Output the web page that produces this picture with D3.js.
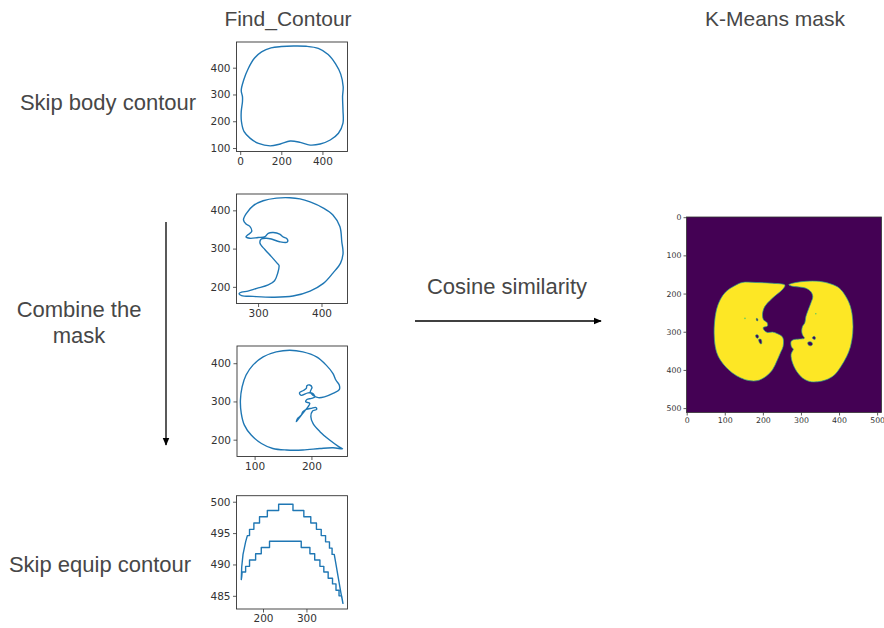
<!DOCTYPE html>
<html>
<head>
<meta charset="utf-8">
<script src="https://cdn.jsdelivr.net/npm/d3@7"></script>
<style>
  body { margin: 0; background: #ffffff; }
  svg { display: block; }
</style>
</head>
<body>
<svg id="chart" width="884" height="628"></svg>
<script>
// ---- contour data (pixel coordinates of the CT slice) ----
const bodyContour = [[259,481],[200,479],[150,474],[104,459],[70,436],[40,398],[17,354],[5,315],[11,292],[11,273],[5,236],[6,199],[19,161],[49,136],[89,117],[146,108],[195,115],[243,126],[292,121],[340,111],[389,115],[438,130],[478,155],[500,193],[500,242],[498,292],[501,329],[489,376],[464,414],[428,449],[380,472],[320,480]];

const leftLungContour = [[350,433],[329,432],[308,425],[293,413],[282,393],[277,375],[281,364],[287,358],[290,345],[284,336],[281,331],[287,327],[300,329],[311,331],[316,340],[324,342],[334,338],[339,331],[346,325],[346,317],[334,318],[321,325],[313,327],[305,325],[303,314],[311,297],[321,279],[330,262],[333,256],[331,236],[326,216],[316,205],[298,196],[284,189],[274,186],[270,182],[274,177],[292,175],[324,173],[355,176],[382,189],[403,209],[418,236],[430,262],[434,288],[432,318],[429,358],[418,388],[403,406],[382,422],[366,430]];

const rightLungContour = [[162,434],[138,429.5],[115,416.5],[97,395],[85,369],[78,338],[75,303],[76.5,269],[82,238],[94,212],[112,190],[132,177],[156,173],[185,173],[215,177],[238,179],[255,176],[248,182],[232,199],[215,221],[203,242],[199,260],[202,275],[209,279],[208,284],[200,282],[191,279],[185,273],[182,264],[176,256],[173.5,247],[179,258],[188,275],[194,286],[197,295],[190,299],[192,305],[200,308],[206,312],[202,321],[194,322.5],[182,316],[179,322.5],[185,328],[191,334],[192,341],[197,343],[201,337],[198,325],[203,316],[212,310],[223,312],[238,321],[249,331],[249,343],[243,356],[238,373],[226,395],[209,416.5],[185,429.5]];

const equipContour = [[150,487.6],[151,489.6],[154,491.6],[157,492.6],[160,493.6],[164,494.6],[169,494.6],[169,495.6],[179,495.6],[179,496.6],[192,496.6],[192,497.6],[210,497.6],[210,498.6],[236,498.6],[236,499.6],[269,499.6],[269,498.6],[294,498.6],[294,497.6],[310,497.6],[310,496.6],[323,496.6],[323,495.6],[334,495.6],[334,494.6],[344,494.6],[344,493.6],[353,493.6],[353,492.6],[359,492.6],[359,491.6],[364,491.6],[369,489.6],[374,487.6],[379,485.6],[384,483.8],
  [381,485.0],[375,485.0],[375,485.9],[368,485.9],[368,486.9],[360,486.9],[360,487.8],[350,487.8],[350,488.8],[340,488.8],[340,489.7],[331,489.7],[331,490.7],[319,490.7],[319,491.7],[308,491.7],[308,492.7],[288,492.7],[288,493.7],[215,493.7],[215,492.7],[196,492.7],[196,491.7],[183,491.7],[183,490.7],[169,490.7],[169,489.7],[160,489.7],[160,488.8],[152,488.8],[151,488.0]];

// ---- K-Means mask regions (image row/column coordinates, 512 x 512) ----
const maskLeftLung = [[258,178],[225,173],[182,171],[146,171],[125,180],[103,195],[88,216],[78,243],[73,277],[72,304],[75,339],[83,365],[98,387],[120,408],[142,421],[164,428],[186,428],[208,417],[225,400],[238,374],[244,360],[248,351],[253,339],[254,321],[250,312],[238,305],[225,301],[212,302],[204,297],[201,289],[212,285],[211,276],[202,269],[199,256],[203,238],[212,225],[225,212],[238,201],[251,190]];
const maskRightLung = [[268,177],[287,171],[313,168],[348,168],[379,175],[401,186],[418,208],[430,234],[436,269],[436,304],[430,339],[420,365],[405,391],[388,413],[366,426],[344,431],[322,430],[304,421],[289,404],[278,382],[274,360],[277,352],[280,346],[275,339],[274,326],[280,321],[296,319],[309,317],[304,308],[302,299],[304,286],[310,277],[313,260],[319,243],[326,225],[331,208],[326,195],[313,186],[296,183],[278,181]];
const maskHoles = [
  [[183,265],[186,266],[187,270],[185,272],[183,269]],
  [[181,309],[186,308],[189,312],[187,317],[183,316]],
  [[189,320],[194,319],[197,324],[196,332],[192,330],[190,326]],
  [[318,328],[323,326],[329,328],[330,334],[325,337],[319,334]],
  [[330,315],[335,312],[338,315],[337,320],[332,319]]
];
const maskSpecks = [[153,265],[339,253]];

// ---- axis limits and tick labels ----
const bodyXLim = [-18, 522],  bodyYLim = [87, 496];
const leftXLim = [266, 441],  leftYLim = [156.5, 442.7];
const rightXLim = [69, 263.5], rightYLim = [156, 445];
const equipXLim = [139, 394.5], equipYLim = [482.9, 500.96];
const bodyXTicks = [0, 200, 400],   bodyYTicks = [100, 200, 300, 400];
const leftXTicks = [300, 400],      leftYTicks = [200, 300, 400];
const rightXTicks = [100, 200],     rightYTicks = [200, 300, 400];
const equipXTicks = [200, 300],     equipYTicks = [485, 490, 495, 500];
const maskTicks = [0, 100, 200, 300, 400, 500];
const maskExtent = [-0.5, 511.5];

// ---- texts ----
const titles = [
  { text: "Find_Contour", x: 288, y: 26 },
  { text: "K-Means mask", x: 775, y: 26 }
];
const stepLabels = [
  { lines: ["Skip body contour"], x: 108, y: 110 },
  { lines: ["Combine the", "mask"], x: 79, y: 317 },
  { lines: ["Skip equip contour"], x: 100, y: 572 },
  { lines: ["Cosine similarity"], x: 507, y: 294 }
];

const svg = d3.select("#chart");
const lineBlue = "#1f77b4";
const textGrey = "#474747";

function styleAxis(sel, size) {
  sel.select(".domain").remove();
  sel.selectAll(".tick line").attr("stroke", "#333").attr("stroke-width", 0.8);
  sel.selectAll(".tick text")
    .attr("fill", "#333")
    .style("font-family", "'DejaVu Sans', sans-serif")
    .style("font-size", size + "px");
}

function contourPanel(id, frame, xLim, yLim, xTicks, yTicks, pts, curve) {
  const [x0, x1, y0, y1] = frame;
  const x = d3.scaleLinear().domain(xLim).range([x0, x1]);
  const y = d3.scaleLinear().domain(yLim).range([y1, y0]);
  const g = svg.append("g").attr("class", "panel-" + id);

  g.append("clipPath").attr("id", "clip-" + id)
    .append("rect").attr("x", x0).attr("y", y0).attr("width", x1 - x0).attr("height", y1 - y0);

  const line = d3.line().x(d => x(d[0])).y(d => y(d[1])).curve(curve);
  g.append("path")
    .attr("clip-path", `url(#clip-${id})`)
    .attr("d", line(pts))
    .attr("fill", "none")
    .attr("stroke", lineBlue)
    .attr("stroke-width", 1.4)
    .attr("stroke-linejoin", "round");

  g.append("g").attr("transform", `translate(0,${y1})`)
    .call(d3.axisBottom(x).tickValues(xTicks).tickSize(3.5).tickSizeOuter(0).tickPadding(2.5).tickFormat(d3.format("d")))
    .call(s => styleAxis(s, 10.5));
  g.append("g").attr("transform", `translate(${x0},0)`)
    .call(d3.axisLeft(y).tickValues(yTicks).tickSize(3.5).tickSizeOuter(0).tickPadding(2.5).tickFormat(d3.format("d")))
    .call(s => styleAxis(s, 10.5));

  g.append("rect")
    .attr("x", x0).attr("y", y0).attr("width", x1 - x0).attr("height", y1 - y0)
    .attr("fill", "none").attr("stroke", "#333").attr("stroke-width", 0.9);
}

const smooth = d3.curveCatmullRomClosed.alpha(0.5);
contourPanel("body", [236.5, 347.5, 42, 151.5], bodyXLim, bodyYLim, bodyXTicks, bodyYTicks, bodyContour, smooth);
contourPanel("left", [236.5, 347.5, 194, 303.5], leftXLim, leftYLim, leftXTicks, leftYTicks, leftLungContour, smooth);
contourPanel("right", [237, 347.5, 346, 456.5], rightXLim, rightYLim, rightXTicks, rightYTicks, rightLungContour, smooth);
contourPanel("equip", [236.5, 347.5, 495.7, 609], equipXLim, equipYLim, equipXTicks, equipYTicks, equipContour, d3.curveLinearClosed);

// ---- K-Means mask image ----
(function maskPanel() {
  const [x0, x1, y0, y1] = [686.5, 881.5, 217, 412.5];
  const x = d3.scaleLinear().domain(maskExtent).range([x0, x1]);
  const y = d3.scaleLinear().domain(maskExtent).range([y0, y1]);
  const g = svg.append("g").attr("class", "panel-mask");

  g.append("rect").attr("x", x0).attr("y", y0).attr("width", x1 - x0).attr("height", y1 - y0)
    .attr("fill", "#440154");

  const area = d3.line().x(d => x(d[0])).y(d => y(d[1])).curve(d3.curveCatmullRomClosed.alpha(0.5));
  g.selectAll("path.lung").data([maskLeftLung, maskRightLung]).join("path")
    .attr("class", "lung")
    .attr("d", area)
    .attr("fill", "#fde725")
    .attr("stroke", "#2a9d8f")
    .attr("stroke-width", 0.7);
  g.selectAll("path.hole").data(maskHoles).join("path")
    .attr("class", "hole")
    .attr("d", area)
    .attr("fill", "#440154")
    .attr("stroke", "#2a9d8f")
    .attr("stroke-width", 0.6);
  g.selectAll("circle.speck").data(maskSpecks).join("circle")
    .attr("class", "speck")
    .attr("cx", d => x(d[0])).attr("cy", d => y(d[1])).attr("r", 0.8)
    .attr("fill", "#5ec962");

  g.append("g").attr("transform", `translate(0,${y1})`)
    .call(d3.axisBottom(x).tickValues(maskTicks).tickSize(3).tickSizeOuter(0).tickPadding(2).tickFormat(d3.format("d")))
    .call(s => styleAxis(s, 7.8));
  g.append("g").attr("transform", `translate(${x0},0)`)
    .call(d3.axisLeft(y).tickValues(maskTicks).tickSize(3).tickSizeOuter(0).tickPadding(2).tickFormat(d3.format("d")))
    .call(s => styleAxis(s, 7.8));

  g.append("rect").attr("x", x0).attr("y", y0).attr("width", x1 - x0).attr("height", y1 - y0)
    .attr("fill", "none").attr("stroke", "#333").attr("stroke-width", 0.8);
})();

// ---- titles and step labels ----
const textFont = "'Liberation Sans', Arial, Helvetica, sans-serif";
svg.selectAll("text.title").data(titles).join("text")
  .attr("class", "title")
  .attr("x", d => d.x).attr("y", d => d.y)
  .attr("text-anchor", "middle")
  .style("font-family", textFont).style("font-size", "21px")
  .attr("fill", textGrey)
  .text(d => d.text);

const labelG = svg.selectAll("text.step").data(stepLabels).join("text")
  .attr("class", "step")
  .attr("text-anchor", "middle")
  .style("font-family", textFont).style("font-size", "22px")
  .attr("fill", textGrey);
labelG.selectAll("tspan").data(d => d.lines.map((t, i) => ({ t, i, x: d.x, y: d.y }))).join("tspan")
  .attr("x", d => d.x).attr("y", d => d.y + d.i * 26)
  .text(d => d.t);

// ---- arrows ----
svg.append("defs").append("marker")
  .attr("id", "head").attr("viewBox", "0 0 10 10")
  .attr("refX", 9).attr("refY", 5)
  .attr("markerWidth", 8).attr("markerHeight", 8)
  .attr("markerUnits", "userSpaceOnUse")
  .attr("orient", "auto")
  .append("path").attr("d", "M0,0.8 L10,5 L0,9.2 Z").attr("fill", "#000");

svg.append("line").attr("x1", 166).attr("y1", 222).attr("x2", 166).attr("y2", 445)
  .attr("stroke", "#000").attr("stroke-width", 1.3).attr("marker-end", "url(#head)");
svg.append("line").attr("x1", 415).attr("y1", 321).attr("x2", 601).attr("y2", 321)
  .attr("stroke", "#000").attr("stroke-width", 1.3).attr("marker-end", "url(#head)");
</script>
</body>
</html>
